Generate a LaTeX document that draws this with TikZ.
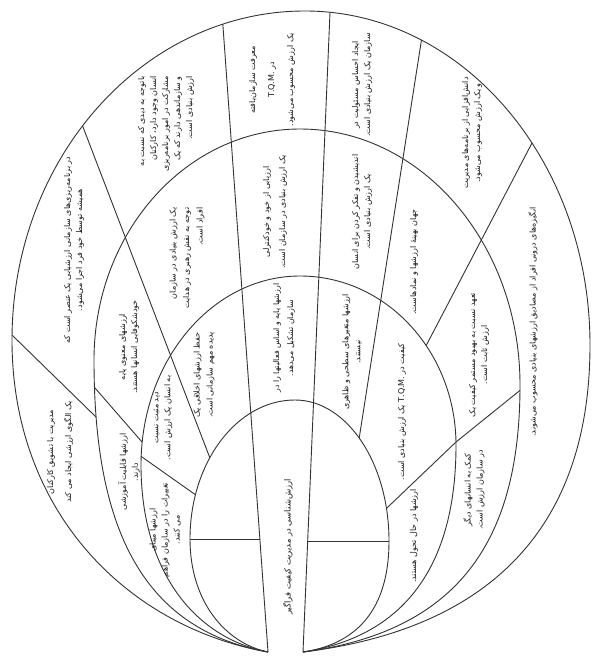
\documentclass[tikz,border=0pt]{standalone}
\usepackage{fontspec}
\newfontfamily\arabicfont[Script=Arabic]{DejaVu Sans}
\TeXXeTstate=1
\usetikzlibrary{intersections,calc}
\newcommand\fa[1]{\beginR #1\endR}
\newcommand\la[1]{\beginL #1\endL{}}
\begin{document}
\begin{tikzpicture}[x=1pt,y=-1pt,
  curve/.style={line width=0.9pt, draw=black!80},
  txt/.style={font=\arabicfont\fontsize{8}{12}\selectfont, rotate=90, align=center, inner sep=0pt, text=black!90}]
\useasboundingbox (0,0) rectangle (603,658);
\fill[white] (0,0) rectangle (603,658);
% closed curves (open at the bottom between the band lines)
\draw[curve, name path=O] (268,652) .. controls (127.2,627) and (12,511.6) .. (12,340)
  .. controls (12,158.3) and (143.2,11) .. (305,11)
  .. controls (462.4,11) and (590,160.5) .. (590,345)
  .. controls (590,513.9) and (503.9,627.4) .. (303,652);
\draw[curve, name path=E3] (268,652) .. controls (137.5,628.6) and (94,520.6) .. (94,360)
  .. controls (94,232.4) and (186.2,129) .. (300,129)
  .. controls (421.5,129) and (520,243.6) .. (520,385)
  .. controls (520,531.9) and (465.8,630.6) .. (303,652);
\draw[curve, name path=E2] (268,652) .. controls (191.8,637) and (141,567.9) .. (141,465)
  .. controls (141,360.6) and (212.2,276) .. (300,276)
  .. controls (386.2,276) and (456,351.7) .. (456,445)
  .. controls (456,558.9) and (410.1,635.4) .. (303,652);
\draw[curve, name path=E1] (268,652) .. controls (225.1,643) and (190,601.2) .. (190,539)
  .. controls (190,462.2) and (237,400) .. (295,400)
  .. controls (346.9,400) and (389,463.1) .. (389,541)
  .. controls (389,602.1) and (363.2,643.1) .. (303,652);
% band lines
\path[name path=bLp] (260,540) -- (220.8,-4);
\path[name intersections={of=O and bLp, by=bLt}];
\draw[curve] (bLt) -- (268,652);
\path[name path=bRp] (308,540) -- (331.3,-19);
\path[name intersections={of=O and bRp, by=bRt}];
\draw[curve] (bRt) -- (303,652);
% radial lines
\coordinate (r1a) at (13,336); \coordinate (r1b) at (95,416);
\path[name path=r1p] ($(r1a)!-0.15!(r1b)$) -- ($(r1a)!1.15!(r1b)$);
\path[name intersections={of=O and r1p, by=r1o}];
\path[name intersections={of=E3 and r1p, by=r1i}];
\draw[curve] (r1o) -- (r1i);
\coordinate (r2a) at (83,127); \coordinate (r2b) at (208,453);
\path[name path=r2p] ($(r2a)!-0.15!(r2b)$) -- ($(r2a)!1.15!(r2b)$);
\path[name intersections={of=O and r2p, by=r2o}];
\path[name intersections={of=E1 and r2p, by=r2i}];
\draw[curve] (r2o) -- (r2i);
\coordinate (r5a) at (421,43); \coordinate (r5b) at (360,433);
\path[name path=r5p] ($(r5a)!-0.1!(r5b)$) -- ($(r5a)!1.1!(r5b)$);
\path[name intersections={of=O and r5p, by=r5o}];
\path[name intersections={of=E1 and r5p, by=r5i}];
\draw[curve] (r5o) -- (r5i);
\coordinate (r6a) at (532,143); \coordinate (r6b) at (427,344);
\path[name path=r6p] ($(r6a)!-0.12!(r6b)$) -- ($(r6a)!1.12!(r6b)$);
\path[name intersections={of=O and r6p, by=r6o}];
\path[name intersections={of=E2 and r6p, by=r6i}];
\draw[curve] (r6o) -- (r6i);
% r7: slightly bent line E3 -> E2 -> E1
\coordinate (r7a) at (518,392); \coordinate (r7m) at (456,442); \coordinate (r7b) at (389,506);
\path[name path=r7p] ($(r7m)!1.15!(r7a)$) -- (r7m);
\path[name intersections={of=E3 and r7p, by=r7o}];
\path[name path=r7q] (r7m) -- ($(r7m)!1.2!(r7b)$);
\path[name intersections={of=E1 and r7q, by=r7i}];
\draw[curve] (r7o) -- (r7m) -- (r7i);
\coordinate (r8a) at (95,388); \coordinate (r8b) at (142,442);
\path[name path=r8p] ($(r8a)!-0.2!(r8b)$) -- ($(r8a)!1.2!(r8b)$);
\path[name intersections={of=E3 and r8p, by=r8o}];
\path[name intersections={of=E2 and r8p, by=r8i}];
\draw[curve] (r8o) -- (r8i);
\coordinate (r9a) at (142,457); \coordinate (r9b) at (193,493);
\path[name path=r9p] ($(r9a)!-0.2!(r9b)$) -- ($(r9a)!1.2!(r9b)$);
\path[name intersections={of=E2 and r9p, by=r9o}];
\path[name intersections={of=E1 and r9p, by=r9i}];
\draw[curve] (r9o) -- (r9i);
% horizontal lines inside the inner curve
\coordinate (hLa) at (190,539); \coordinate (hLb) at (259.9,539);
\coordinate (hRa) at (307.7,541); \coordinate (hRb) at (389,541);
\draw[curve] (hLa) -- (hLb);
\draw[curve] (hRa) -- (hRb);
% texts
\node[txt, font=\arabicfont\fontsize{8}{18}\selectfont] (t1) at (60,452) {\fa{مدیریت با تشویق کارکنان}\\\fa{یک الگوی ارزشی ایجاد می کند}};
\node[txt] (t2) at (74,250) {\fa{در برنامه‌ریزی‌های سازمانی ارزشیابی یک عنصر است که}\\\fa{همیشه توسط خود فرد اجرا می‌شود.}};
\node[txt, align=right] (t3) at (166,124) {\fa{باتوجه به دیدی که نسبت به}\\\fa{انسان وجود دارد، کارکنان}\\\fa{مشارکت در امور برنامه‌ریزی}\\\fa{و سازماندهی دارند که یک}\\\fa{ارزش بنیادی است.}};
\node[txt, font=\arabicfont\fontsize{8}{19}\selectfont] (t4) at (272,80) {\fa{معرفت سازمان‌یافته}\\\fa{در \la{T.Q.M.}}\\\fa{یک ارزش محسوب می‌شود.}};
\node[txt] (t5) at (362,85) {\fa{ایجاد احساس مسئولیت در}\\\fa{سازمان یک ارزش بنیادی است.}};
\node[txt] (t6) at (472,133) {\fa{دانش‌افزایی از برنامه‌های مدیریت}\\\fa{و یک ارزش محسوب می‌شود.}};
\node[txt] (t7) at (533,322) {\fa{انگیزه‌های درونی افراد از مصادیق ارزشهای بنیادی محسوب می‌شوند.}};
\node[txt] (t8) at (129,347) {\fa{ارزشهای معنوی پایه}\\\fa{خودشکوفایی انسانها هستند.}};
\node[txt] (t9) at (129,472) {\fa{ارزشها قابلیت آموزشی}\\\fa{دارند.}};
\node[txt, align=right, font=\arabicfont\fontsize{8}{13.5}\selectfont] (t10) at (187,258) {\fa{یک ارزش بنیادی در سازمان}\\\fa{توجه به نقش رهبری در هدایت}\\\fa{افراد است.}};
\node[txt, font=\arabicfont\fontsize{8}{16}\selectfont] (t11) at (275,212) {\fa{ارزیابی از خود و خودکنترلی}\\\fa{یک ارزش بنیادی در سازمان است.}};
\node[txt] (t12) at (362,212) {\fa{اندیشیدن و تفکر کردن برای انسان}\\\fa{یک ارزش بنیادی است.}};
\node[txt] (t13) at (414,262) {\fa{جهان بهینهٔ ارزشها و نمادهاست.}};
\node[txt] (t14) at (479,355) {\fa{تعهد نسبت به بهبود مستمر کیفیت یک}\\\fa{ارزش ثابت است.}};
\node[txt] (t15) at (474,490) {\fa{کمک به انسانهای دیگر}\\\fa{در سازمان ارزش است.}};
\node[txt] (t16) at (163,418) {\fa{دید مثبت نسبت}\\\fa{به انسان یک ارزش است.}};
\node[txt] (t17) at (165,530) {\fa{ارزشها مبنای}\\\fa{تغییرات را در سازمان فراهم}\\\fa{می کنند.}};
\node[txt, font=\arabicfont\fontsize{8}{13}\selectfont] (t18) at (204,375) {\fa{حفظ ارزشهای اخلاقی یک}\\\fa{پدیده مهم سازمانی است.}};
\node[txt, font=\arabicfont\fontsize{7.8}{14}\selectfont] (t19) at (284,338) {\fa{ارزشها پایه و اساس فعالیتها را در}\\\fa{سازمان تشکیل می‌دهد.}};
\node[txt] (t20) at (352,352) {\fa{ارزشها متغیرهای سطحی و ظاهری}\\\fa{نیستند.}};
\node[txt] (t21) at (402,412) {\fa{کیفیت در \la{T.Q.M.} یک ارزش بنیادی است.}};
\node[txt] (t22) at (414,536) {\fa{ارزشها در حال تحول هستند.}};
\node[txt, font=\arabicfont\fontsize{8.4}{12}\selectfont] (title) at (288,547) {\fa{ارزش‌شناسی در مدیریت کیفیت فراگیر}};
\end{tikzpicture}
\end{document}
